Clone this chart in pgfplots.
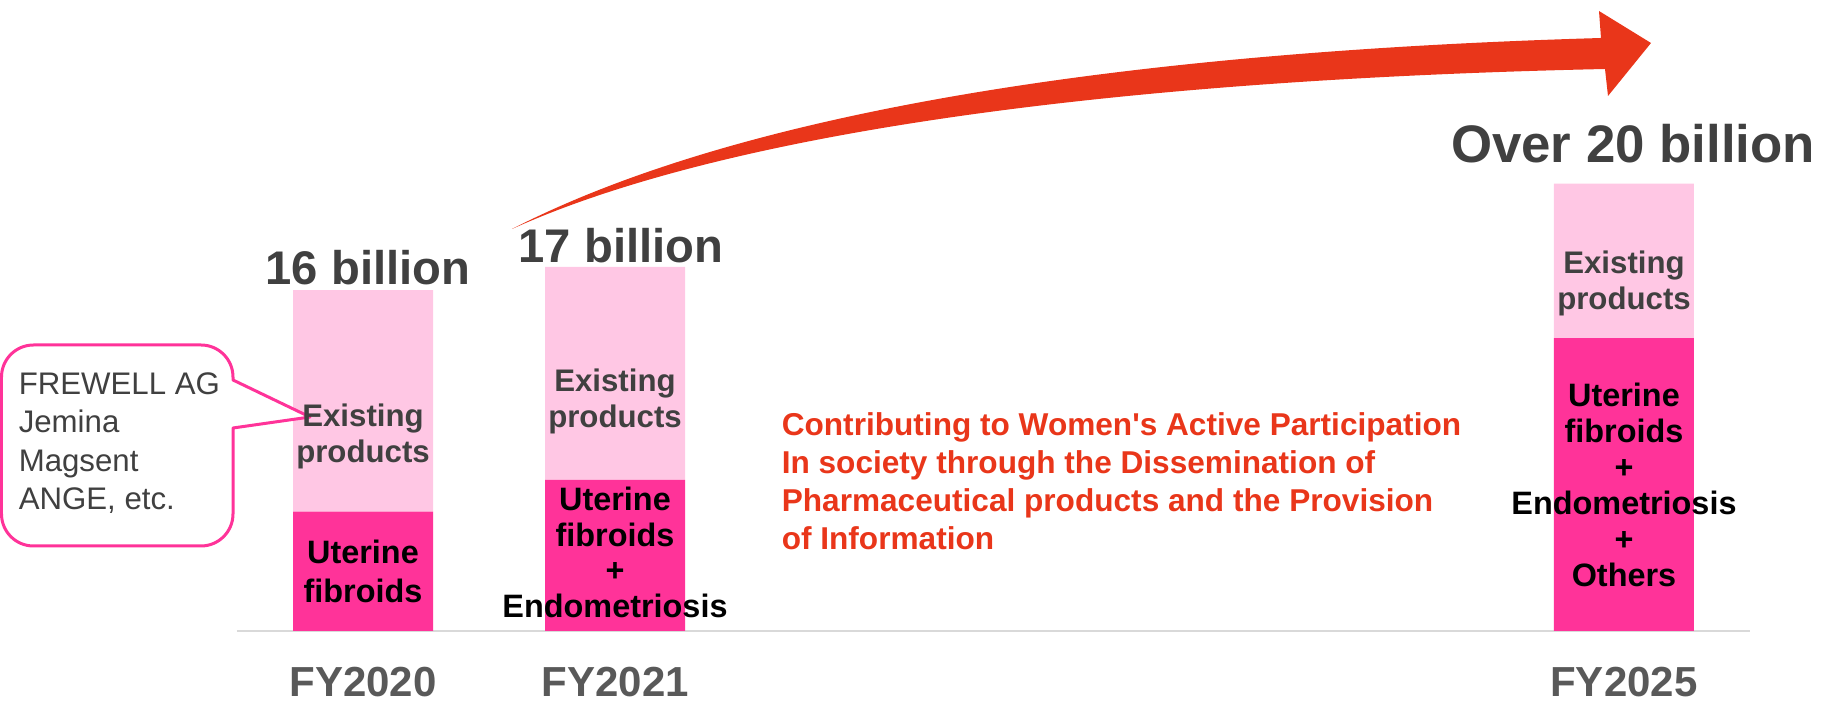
\documentclass[border=0pt]{standalone}
\usepackage{pgfplots}
\pgfplotsset{compat=1.18}
\usepackage{fontspec}
\setmainfont{Liberation Sans}
\definecolor{hot}{RGB}{255,51,153}
\definecolor{lite}{RGB}{255,199,228}
\definecolor{txt}{RGB}{64,64,64}
\definecolor{fy}{RGB}{89,89,89}
\definecolor{arr}{RGB}{233,54,26}
\newcommand\Lc[3]{\node[anchor=base, inner sep=0pt] at (#1,#2) {#3};}
\newcommand\Ll[3]{\node[anchor=base west, inner sep=0pt] at (#1,#2) {#3};}
\begin{document}
\begin{tikzpicture}
\useasboundingbox (0,0) rectangle (456.25pt,176.75pt);
\begin{axis}[
  at={(59.25pt,19pt)}, anchor=south west,
  scale only axis, width=378.25pt, height=133.125pt,
  xmin=2019.5, xmax=2025.5, ymin=0, ymax=25,
  ybar stacked, bar width=35pt,
  axis x line=bottom, axis y line=none,
  x axis line style={draw=black!15, line width=0.5pt, -},
  xtick={2020,2021,2025},
  xticklabels={\textbf{FY2020},\textbf{FY2021},\textbf{FY2025}},
  major tick length=0pt, xtick style={draw=none},
  xticklabel style={font=\fontsize{10.5}{12}\selectfont\bfseries, text=fy, anchor=base, yshift=-16.5pt, inner sep=0pt},
  ytick=\empty,
  clip=false,
]
\addplot[fill=hot, draw=none] coordinates {(2020,5.6) (2021,7.1) (2025,13.75)};
\addplot[fill=lite, draw=none] coordinates {(2020,10.4) (2021,10.0) (2025,7.25)};
\end{axis}
\begin{scope}[x=0.25pt, y=-0.25pt, shift={(0pt,176.75pt)}]
% arrow
\fill[arr] (512,229) .. controls (740,112) and (1120,52) .. (1601,38) -- (1599,11) -- (1651,43) -- (1608,96) -- (1605,69) .. controls (1100,80) and (720,135) .. (512,229) -- cycle;
% callout
\filldraw[fill=white, draw=hot, line width=0.75pt, line join=round] (310,417) -- (233,380) [rounded corners=8pt] -- (233,345) -- (1.5,345) -- (1.5,546) -- (233,546) [sharp corners] -- (233,428) -- cycle;
\begin{scope}[font=\fontsize{7.8}{9}\selectfont, text=txt]
\Ll{18}{395}{FREWELL AG}
\Ll{18}{433}{Jemina}
\Ll{18}{472}{Magsent}
\Ll{18}{510}{ANGE, etc.}
\end{scope}
% totals
\begin{scope}[font=\fontsize{11.8}{13}\selectfont\bfseries, text=txt]
\Lc{368}{285}{16 billion}
\Lc{621}{263}{17 billion}
\end{scope}
\begin{scope}[font=\fontsize{13.2}{15}\selectfont\bfseries, text=txt]
\Lc{1633}{163}{Over 20 billion}
\end{scope}
% existing products
\begin{scope}[font=\fontsize{7.8}{9}\selectfont\bfseries, text=txt]
\Lc{363}{427}{Existing}
\Lc{363}{463}{products}
\Lc{615}{392}{Existing}
\Lc{615}{428}{products}
\Lc{1624}{274}{Existing}
\Lc{1624}{310}{products}
\end{scope}
% new products
\begin{scope}[font=\fontsize{8.1}{9}\selectfont\bfseries, text=black]
\Lc{363}{564}{Uterine}
\Lc{363}{603}{fibroids}
\Lc{615}{511}{Uterine}
\Lc{615}{547}{fibroids}
\Lc{615}{582}{+}
\Lc{615}{618}{Endometriosis}
\Lc{1624}{407}{Uterine}
\Lc{1624}{443}{fibroids}
\Lc{1624}{479}{+}
\Lc{1624}{515}{Endometriosis}
\Lc{1624}{551}{+}
\Lc{1624}{587}{Others}
\end{scope}
% red message
\begin{scope}[font=\fontsize{7.9}{9.5}\selectfont\bfseries, text=arr]
\Ll{781}{436}{Contributing to Women\textquotesingle s Active Participation}
\Ll{781}{474}{In society through the Dissemination of}
\Ll{781}{512}{Pharmaceutical products and the Provision}
\Ll{781}{550}{of Information}
\end{scope}
\end{scope}
\end{tikzpicture}
\end{document}
